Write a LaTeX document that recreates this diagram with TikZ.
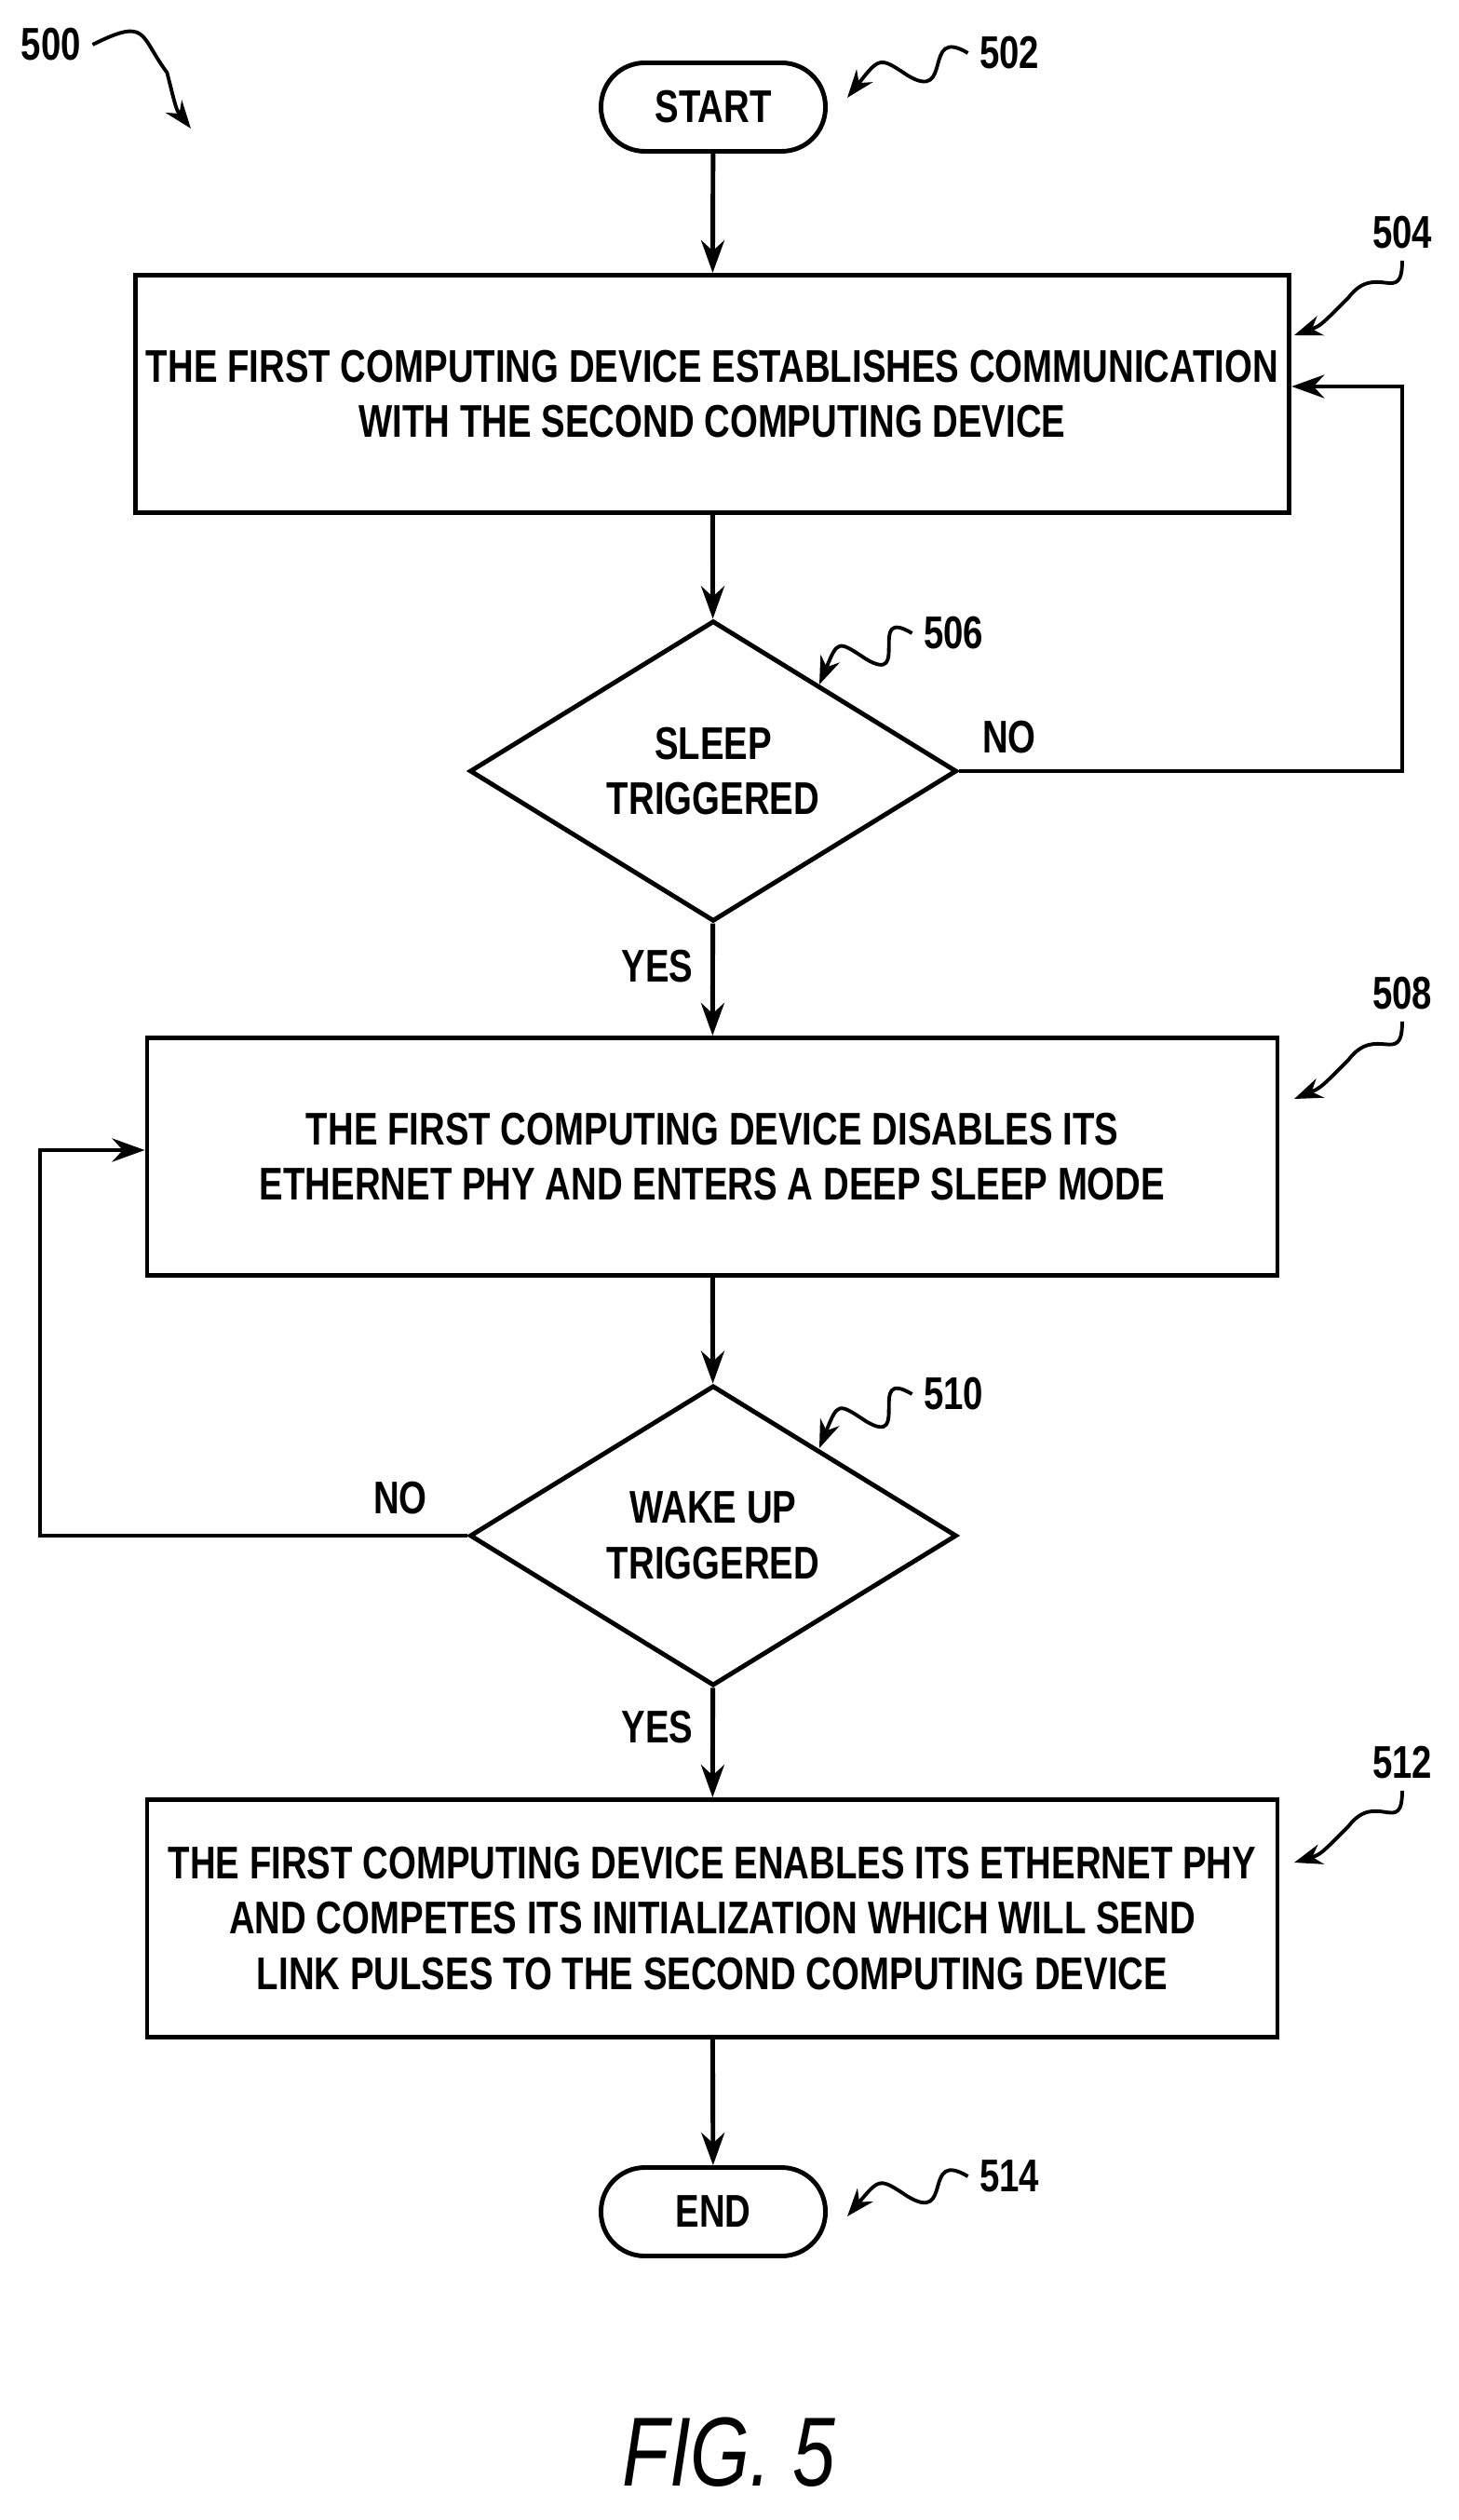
\documentclass[tikz,border=0pt]{standalone}
\usepackage{fontspec}
\setmainfont{Liberation Sans}[FakeStretch=0.78]
\usetikzlibrary{shapes.geometric,arrows.meta,positioning,calc}
\tikzset{
  every node/.style={font=\fontsize{14}{17}\selectfont\bfseries, align=center},
  term/.style={draw, line width=1.4pt, rounded corners=0.47cm, minimum width=2.41cm, minimum height=0.95cm},
  proc/.style={draw, line width=1.4pt, minimum width=12.14cm, minimum height=2.55cm},
  test/.style={draw, diamond, line width=1.4pt, minimum width=5.23cm, minimum height=3.03cm, inner sep=0pt},
  flow/.style={line width=1.4pt, -{Stealth[length=0.35cm,width=0.25cm]}},
  lead/.style={line width=1.1pt, -{Stealth[length=0.3cm,width=0.22cm]}}
}
\begin{document}
\begin{tikzpicture}
\useasboundingbox (0,0) rectangle (15.66,-27.06);
% blocks
\node[term] (start) at (7.66,-1.15) {START};
\node[proc] (s504) at (7.65,-4.23) {THE FIRST COMPUTING DEVICE ESTABLISHES COMMUNICATION\\WITH THE SECOND COMPUTING DEVICE};
\node[test] (d506) at (7.66,-8.28) {SLEEP\\TRIGGERED};
\node[proc] (s508) at (7.65,-12.42) {THE FIRST COMPUTING DEVICE DISABLES ITS\\ETHERNET PHY AND ENTERS A DEEP SLEEP MODE};
\node[test] (d510) at (7.66,-16.49) {WAKE UP\\TRIGGERED};
\node[proc] (s512) at (7.65,-20.6) {THE FIRST COMPUTING DEVICE ENABLES ITS ETHERNET PHY\\AND COMPETES ITS INITIALIZATION WHICH WILL SEND\\LINK PULSES TO THE SECOND COMPUTING DEVICE};
\node[term] (end) at (7.66,-23.75) {END};
% connectors
\draw[flow] (start) -- (s504);
\draw[flow] (s504) -- (d506);
\draw[flow] (d506) -- (s508);
\draw[flow] (s508) -- (d510);
\draw[flow] (d510) -- (s512);
\draw[flow] (s512) -- (end);
\draw[flow] (d506.east) -| (15.06,-4.15) -- (s504.east |- 0,-4.15);
\draw[flow] (d510.west) -| (0.43,-12.35) -- (s508.west |- 0,-12.35);
\node at (10.84,-7.92) {NO};
\node at (7.06,-10.38) {YES};
\node at (4.3,-16.09) {NO};
\node at (7.06,-18.55) {YES};
% reference labels
\node (l500) at (0.55,-0.48) {500};
\node (l502) at (10.84,-0.57) {502};
\node (l504) at (15.06,-2.5) {504};
\node (l506) at (10.24,-6.8) {506};
\node (l508) at (15.06,-10.67) {508};
\node (l510) at (10.24,-14.97) {510};
\node (l512) at (15.06,-18.93) {512};
\node (l514) at (10.84,-23.37) {514};
\coordinate (p500) at (2.05,-1.38);
\coordinate (p502) at (9.1,-1.05);
\coordinate (p504) at (13.9,-3.6);
\coordinate (p506) at (8.8,-7.35);
\coordinate (p508) at (13.9,-11.8);
\coordinate (p510) at (8.8,-15.55);
\coordinate (p512) at (13.9,-20.0);
\coordinate (p514) at (9.1,-23.8);
\draw[lead] (l500.east) .. controls +(0.6,0.3) and +(-0.3,0.4) .. +(0.8,-0.3) .. controls +(0.1,-0.4) .. (p500);
\foreach \l in {502,506,510,514}
  \draw[lead] (l\l.west) .. controls +(-0.5,0.3) and +(0.5,-0.3) .. ($(l\l.west)!0.5!(p\l)$) .. controls +(-0.3,0.2) .. (p\l);
\foreach \l in {504,508,512}
  \draw[lead] (l\l.south) .. controls +(0,-0.5) and +(0.3,0.4) .. ($(l\l.south)!0.5!(p\l)$) .. controls +(-0.3,-0.3) .. (p\l);
\node[font=\fontsize{30}{34}\selectfont\itshape] (fig) at (7.83,-26.33) {FIG. 5};
\end{tikzpicture}
\end{document}
